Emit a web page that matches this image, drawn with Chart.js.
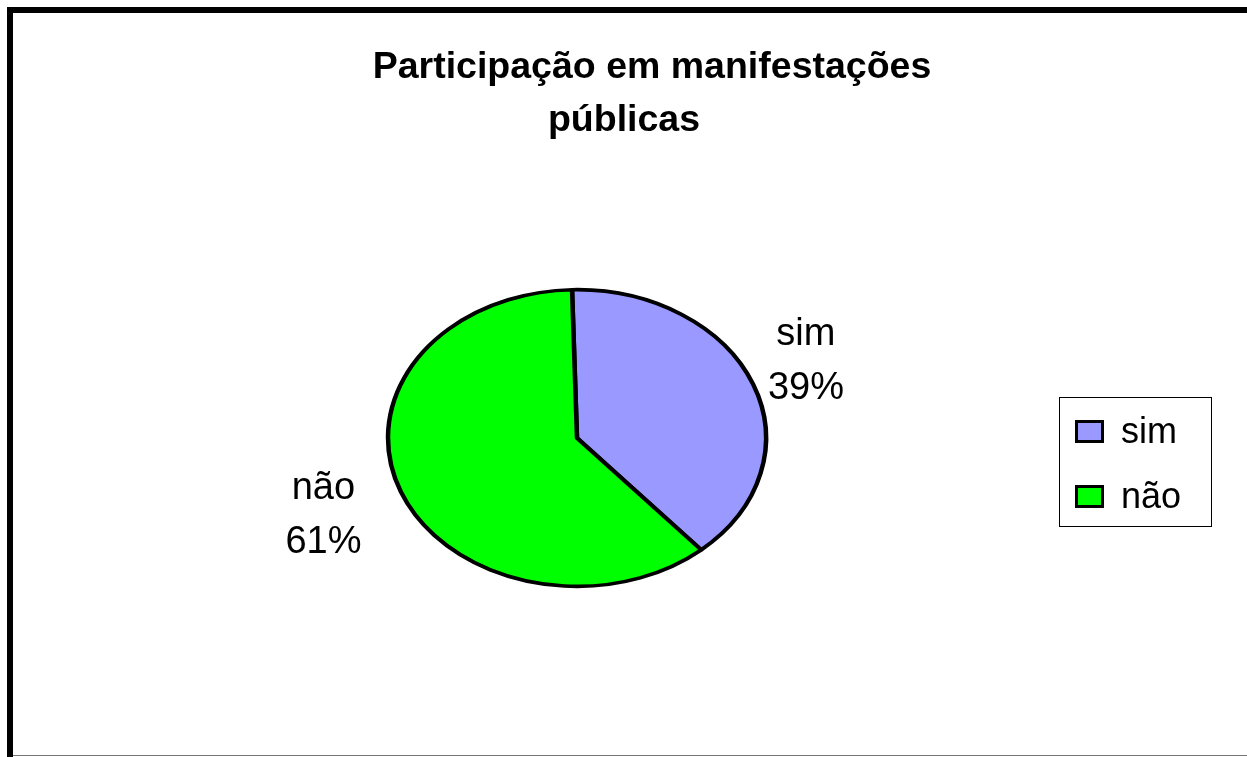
<!DOCTYPE html>
<html>
<head>
<meta charset="utf-8">
<script src="https://cdn.jsdelivr.net/npm/chart.js@4.4.0/dist/chart.umd.min.js"></script>
<style>
  html, body { margin: 0; padding: 0; background: #fff; }
  canvas { display: block; }
</style>
</head>
<body>
<canvas id="grafico" width="1247" height="757"></canvas>
<script>
// dados do grafico
var titulo = ['Participação em manifestações', 'públicas'];
var categorias = ['sim', 'não'];
var valores = [39, 61];
var cores = ['#9999ff', '#00ff00'];

var FONTE = '"Liberation Sans", Arial, sans-serif';
var achatamento = 0.785;          // pizza desenhada como elipse
var distRotulo = [1.30, 1.44];    // distancia dos rotulos em relacao ao raio
var ajusteRotulo = [-6, 0];       // deslocamento vertical de cada rotulo

// moldura, titulo e fundo
var moldura = {
    id: 'moldura',
    beforeDraw: function (chart) {
        var ctx = chart.ctx;
        ctx.save();
        ctx.fillStyle = '#fff';
        ctx.fillRect(0, 0, chart.width, chart.height);
        ctx.fillStyle = '#000';
        ctx.fillRect(7, 7, chart.width - 7, 6);
        ctx.fillRect(7, 7, 6, chart.height - 7);
        ctx.fillStyle = '#777';
        ctx.fillRect(13, 755, chart.width - 13, 1);

        ctx.fillStyle = '#000';
        ctx.font = 'bold 37.5px ' + FONTE;
        ctx.textAlign = 'center';
        ctx.textBaseline = 'alphabetic';
        ctx.fillText(titulo[0], 652, 78);
        ctx.fillText(titulo[1], 624, 131);
        ctx.restore();
    }
};

// achata a pizza no eixo vertical
var elipse = {
    id: 'elipse',
    beforeDatasetsDraw: function (chart) {
        var arco = chart.getDatasetMeta(0).data[0];
        var ctx = chart.ctx;
        ctx.save();
        ctx.translate(arco.x, arco.y);
        ctx.scale(1, achatamento);
        ctx.translate(-arco.x, -arco.y);
    },
    afterDatasetsDraw: function (chart) {
        chart.ctx.restore();
    }
};

// rotulos das fatias e legenda
var rotulos = {
    id: 'rotulos',
    afterDraw: function (chart) {
        var ctx = chart.ctx;
        var meta = chart.getDatasetMeta(0);
        var total = valores.reduce(function (a, b) { return a + b; }, 0);
        ctx.save();
        ctx.fillStyle = '#000';
        ctx.font = '38px ' + FONTE;
        ctx.textAlign = 'center';
        ctx.textBaseline = 'middle';
        meta.data.forEach(function (arco, i) {
            var p = arco.getProps(['x', 'y', 'startAngle', 'endAngle', 'outerRadius'], true);
            var meio = (p.startAngle + p.endAngle) / 2;
            var d = p.outerRadius * distRotulo[i];
            var x = p.x + Math.cos(meio) * d;
            var y = p.y + Math.sin(meio) * d * achatamento + ajusteRotulo[i];
            var pct = Math.round(valores[i] / total * 100) + '%';
            ctx.fillText(categorias[i], x, y - 27);
            ctx.fillText(pct, x, y + 27);
        });

        // legenda
        ctx.lineWidth = 1;
        ctx.strokeStyle = '#000';
        ctx.strokeRect(1059.5, 397.5, 152, 129);
        ctx.font = '36px ' + FONTE;
        ctx.textAlign = 'left';
        ctx.textBaseline = 'alphabetic';
        categorias.forEach(function (cat, i) {
            var topo = 420 + i * 65;
            ctx.fillStyle = '#000';
            ctx.fillRect(1075, topo, 29, 23);
            ctx.fillStyle = cores[i];
            ctx.fillRect(1078, topo + 3, 23, 17);
            ctx.fillStyle = '#000';
            ctx.fillText(cat, 1121, topo + 23);
        });
        ctx.restore();
    }
};

var grafico = new Chart(document.getElementById('grafico'), {
    type: 'pie',
    data: {
        labels: categorias,
        datasets: [{
            data: valores,
            backgroundColor: cores,
            borderColor: '#000',
            borderWidth: 4.5,
            hoverOffset: 0
        }]
    },
    options: {
        responsive: false,
        animation: false,
        rotation: -1.5,
        radius: 189,
        layout: {
            padding: { left: 386, right: 479, top: 247, bottom: 128 }
        },
        plugins: {
            legend: { display: false },
            title: { display: false },
            tooltip: { enabled: false }
        },
        events: []
    },
    plugins: [moldura, elipse, rotulos]
});
</script>
</body>
</html>
